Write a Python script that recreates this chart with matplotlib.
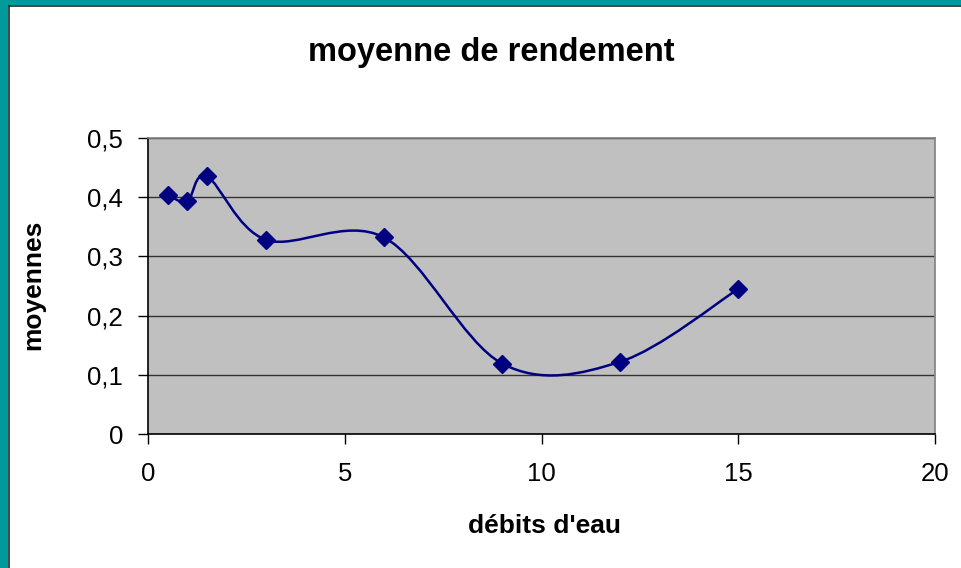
import numpy as np
import matplotlib
matplotlib.use("Agg")
import matplotlib.pyplot as plt
from matplotlib.path import Path
from matplotlib.patches import PathPatch, Rectangle
from matplotlib.lines import Line2D

plt.rcParams["font.family"] = ["Liberation Sans", "DejaVu Sans"]

# données
debits = [0.5, 1, 1.5, 3, 6, 9, 12, 15]
moyennes = [0.404, 0.393, 0.435, 0.328, 0.332, 0.119, 0.122, 0.245]
xticks = [0, 5, 10, 15, 20]
yticks = [0, 0.1, 0.2, 0.3, 0.4, 0.5]
ytick_labels = ["0", "0,1", "0,2", "0,3", "0,4", "0,5"]

NAVY = "#000080"
TEAL = "#009a9a"


def courbe_lissee(x, y):
    # lissage type Excel (Bezier façon Catmull-Rom)
    p = np.column_stack([x, y]).astype(float)
    n = len(p)
    verts = [p[0]]
    codes = [Path.MOVETO]
    for i in range(n - 1):
        p0 = p[max(i - 1, 0)]
        p1 = p[i]
        p2 = p[i + 1]
        p3 = p[min(i + 2, n - 1)]
        verts += [p1 + (p2 - p0) / 6, p2 - (p3 - p1) / 6, p2]
        codes += [Path.CURVE4] * 3
    return Path(verts, codes)


W, H = 962, 568
fig = plt.figure(figsize=(W / 100, H / 100), dpi=100)
fig.patch.set_facecolor("white")

ax = fig.add_axes([148 / W, 1 - 434 / H, (935 - 148) / W, (434 - 138) / H])
ax.set_facecolor("#c0c0c0")
ax.set_xlim(0, 20)
ax.set_ylim(0, 0.5)

ax.add_patch(PathPatch(courbe_lissee(debits, moyennes), facecolor="none",
                       edgecolor=NAVY, lw=1.8, zorder=3))
ax.plot(debits, moyennes, ls="none", marker="D", ms=9, color=NAVY, zorder=4)

ax.set_xticks(xticks)
ax.set_xticklabels([str(v) for v in xticks])
ax.set_yticks(yticks)
ax.set_yticklabels(ytick_labels)
ax.tick_params(axis="both", direction="out", length=7, width=1, colors="black",
               labelsize=18.5, pad=11)
ax.tick_params(axis="x", pad=13)
ax.yaxis.grid(True, color="#333333", lw=1)
ax.set_axisbelow(True)

for s in ["top", "right"]:
    ax.spines[s].set_color("#808080")
    ax.spines[s].set_linewidth(1.2)
for s in ["left", "bottom"]:
    ax.spines[s].set_color("black")
    ax.spines[s].set_linewidth(1.2)

fig.text(491 / W, 1 - 52 / H, "moyenne de rendement", ha="center", va="center",
         fontsize=23.5, fontweight="bold")
fig.text(545 / W, 1 - 526 / H, "débits d'eau", ha="center", va="center",
         fontsize=19, fontweight="bold")
fig.text(33 / W, 1 - 285 / H, "moyennes", ha="center", va="center",
         rotation=90, fontsize=19, fontweight="bold")

# cadre turquoise en haut et à gauche
fig.add_artist(Rectangle((0, 0), 8 / W, 1, transform=fig.transFigure,
                         facecolor=TEAL, edgecolor="none"))
fig.add_artist(Rectangle((0, 1 - 5 / H), 1, 5 / H, transform=fig.transFigure,
                         facecolor=TEAL, edgecolor="none"))
fig.add_artist(Line2D([8.5 / W, 8.5 / W], [0, 1 - 5.5 / H], transform=fig.transFigure,
                      color="#1a2a2a", lw=1.2))
fig.add_artist(Line2D([8.5 / W, 1], [1 - 5.5 / H, 1 - 5.5 / H], transform=fig.transFigure,
                      color="#1a2a2a", lw=1.2))

fig.savefig("out.png", dpi=100)
